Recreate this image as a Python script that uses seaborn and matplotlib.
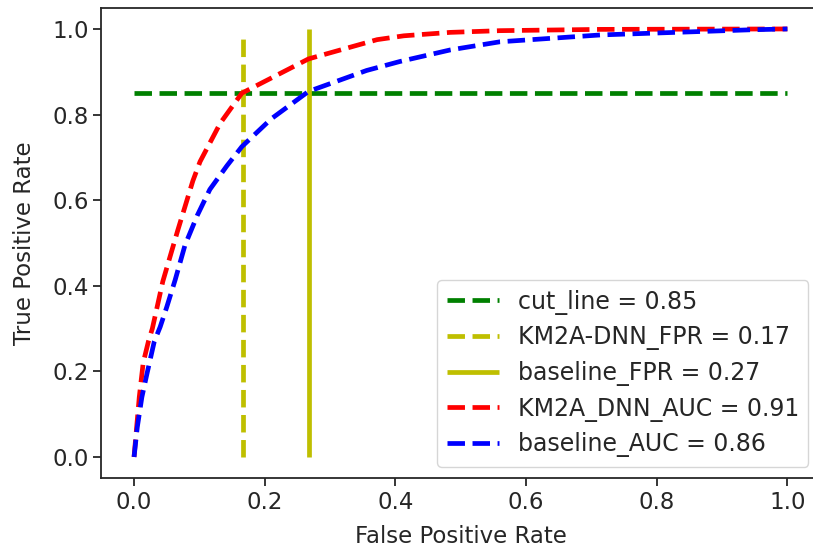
import matplotlib
matplotlib.use("Agg")
import matplotlib.pyplot as plt
import seaborn as sns

# ROC curve points
dnn_fpr = [0, 0.004, 0.008, 0.014, 0.022, 0.028, 0.044, 0.067, 0.090, 0.101,
           0.132, 0.165, 0.267, 0.372, 0.413, 0.484, 0.56, 0.714, 1.0]
dnn_tpr = [0, 0.07, 0.14, 0.22, 0.27, 0.30, 0.41, 0.53, 0.645, 0.69,
           0.78, 0.85, 0.93, 0.975, 0.984, 0.992, 0.996, 0.999, 1.0]

base_fpr = [0, 0.005, 0.012, 0.02, 0.031, 0.040, 0.05, 0.063, 0.078, 0.097,
            0.116, 0.142, 0.165, 0.21, 0.267, 0.356, 0.407, 0.484, 0.56,
            0.637, 0.714, 0.79, 0.867, 0.943, 1.0]
base_tpr = [0, 0.07, 0.14, 0.196, 0.27, 0.304, 0.35, 0.414, 0.495, 0.565,
            0.625, 0.68, 0.725, 0.79, 0.854, 0.903, 0.924, 0.951, 0.970,
            0.978, 0.986, 0.990, 0.994, 0.998, 1.0]

cut_line = 0.85
dnn_cut_fpr = 0.167
base_cut_fpr = 0.268
dnn_auc = 0.91
base_auc = 0.86

sns.set_style("ticks")
plt.rcParams["font.family"] = ["DejaVu Sans"]
plt.rcParams["axes.linewidth"] = 1.3
plt.rcParams["xtick.major.width"] = 1.3
plt.rcParams["ytick.major.width"] = 1.3
plt.rcParams["xtick.major.size"] = 5.5
plt.rcParams["ytick.major.size"] = 5.5

fs = 16.5
lw = 3.4

fig = plt.figure(figsize=(8.13, 5.51), dpi=100)
ax = fig.add_axes([0.1247, 0.1318, 0.884, 0.8545])

ax.hlines(cut_line, 0, 1, colors="g", linestyles="--", lw=lw,
          label=f"cut_line = {cut_line:.2f}")
ax.vlines(dnn_cut_fpr, 0, 0.99, colors="y", linestyles="--", lw=lw,
          label=f"KM2A-DNN_FPR = {dnn_cut_fpr:.2f}")
ax.vlines(base_cut_fpr, 0, 1, colors="y", linestyles="-", lw=lw,
          label=f"baseline_FPR = {base_cut_fpr:.2f}")
sns.lineplot(x=dnn_fpr, y=dnn_tpr, ax=ax, color="r", linestyle="--", lw=lw,
             label=f"KM2A_DNN_AUC = {dnn_auc:.2f}")
sns.lineplot(x=base_fpr, y=base_tpr, ax=ax, color="b", linestyle="--", lw=lw,
             label=f"baseline_AUC = {base_auc:.2f}")

ax.set_xlim(-0.05, 1.05)
ax.set_ylim(-0.05, 1.05)
ax.set_xticks([0, 0.2, 0.4, 0.6, 0.8, 1.0])
ax.set_yticks([0, 0.2, 0.4, 0.6, 0.8, 1.0])
ax.tick_params(labelsize=fs)
ax.spines["right"].set_visible(False)
ax.set_xlabel("False Positive Rate", fontsize=fs, labelpad=8)
ax.set_ylabel("True Positive Rate", fontsize=fs, labelpad=12)
ax.legend(loc="lower right", fontsize=fs + 0.5, handlelength=2.2,
          labelspacing=0.45)

fig.savefig("out.png", dpi=100)
